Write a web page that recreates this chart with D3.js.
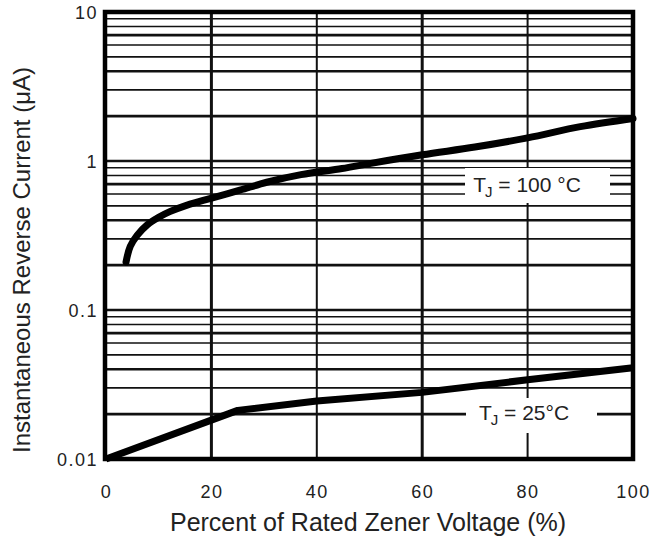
<!DOCTYPE html>
<html><head><meta charset="utf-8">
<script src="https://cdn.jsdelivr.net/npm/d3@7"></script>
<style>
html,body{margin:0;padding:0;background:#fff;}
text{font-family:"Liberation Sans",Arial,sans-serif;fill:#222;}
</style></head>
<body>
<svg id="c" width="669" height="541"></svg>
<script>
// ---- data ----
const xTicks = [0, 20, 40, 60, 80, 100];
const xTickLabels = ["0", "20", "40", "60", "80", "100"];
const yTicks = [0.01, 0.1, 1, 10];
const yTickLabels = ["0.01", "0.1", "1", "10"];
const series100X = [3.8, 4.6, 5.9, 7.8, 10, 12.1, 15.4, 19.7, 25.4, 30.5, 37, 44.8, 50, 60, 70, 80, 90, 100];
const series100Y = [0.21, 0.267, 0.317, 0.372, 0.419, 0.457, 0.506, 0.56, 0.637, 0.72, 0.81, 0.89, 0.96, 1.1, 1.24, 1.43, 1.7, 1.93];
const series25X = [0, 25, 40, 60, 80, 100];
const series25Y = [0.01, 0.0212, 0.0245, 0.028, 0.034, 0.041];
const label100 = "100 \u00b0C";
const label25 = "25\u00b0C";
const xTitle = "Percent of Rated Zener Voltage (%)";
const yTitle = "Instantaneous Reverse Current (\u03bcA)";

const svg = d3.select("#c");
const L = 106, R = 633, T = 12, B = 459;
const x = d3.scaleLinear().domain([0, 100]).range([L, R]);
const y = d3.scaleLog().domain([0.01, 10]).range([B, T]);

// horizontal grid
const hGrid = [];
[0.01, 0.1, 1].forEach(d => { for (let k = 1; k < 10; k++) hGrid.push(d * k); });
const thickMult = new Set([1, 2, 4, 7]);
const g = svg.append("g");
hGrid.forEach(v => {
  const m = Math.round(v / Math.pow(10, Math.floor(Math.log10(v) + 1e-9)));
  g.append("line").attr("x1", L).attr("x2", R).attr("y1", y(v)).attr("y2", y(v))
    .attr("stroke", "#111").attr("stroke-width", thickMult.has(m) ? 2.6 : 1.6);
});
// vertical grid
[20, 40, 60, 80].forEach(v => {
  g.append("line").attr("x1", x(v)).attr("x2", x(v)).attr("y1", T).attr("y2", B)
    .attr("stroke", "#111").attr("stroke-width", (v === 20 || v === 60) ? 3 : 2);
});

// label boxes (white)
function tjLabel(x0, x1, y0, y1, tx, baseline, txt) {
  svg.append("rect").attr("x", x0).attr("y", y0).attr("width", x1 - x0).attr("height", y1 - y0).attr("fill", "#fff");
  const t = svg.append("text").attr("x", tx).attr("y", baseline).attr("text-anchor", "middle")
    .attr("font-size", 21);
  t.append("tspan").text("T");
  t.append("tspan").attr("font-size", 15).attr("dy", 5).attr("dx", -1).text("J");
  t.append("tspan").attr("dy", -5).text(" = " + txt);
}
tjLabel(465, 610, 168, 203, 527, 192, label100);
tjLabel(466, 597, 398, 433, 524, 420, label25);

// curves
const line100 = d3.line().x(d => x(d[0])).y(d => y(d[1])).curve(d3.curveCatmullRom);
svg.append("path").datum(series100X.map((v, i) => [v, series100Y[i]]))
  .attr("d", line100).attr("fill", "none").attr("stroke", "#000").attr("stroke-width", 7).attr("stroke-linecap", "round");
const line25 = d3.line().x(d => x(d[0])).y(d => y(d[1])).curve(d3.curveLinear);
svg.append("path").datum(series25X.map((v, i) => [v, series25Y[i]]))
  .attr("d", line25).attr("fill", "none").attr("stroke", "#000").attr("stroke-width", 7).attr("stroke-linejoin", "round");

// frame
svg.append("rect").attr("x", L - 1).attr("y", T).attr("width", R - L + 1).attr("height", B - T)
  .attr("fill", "none").attr("stroke", "#000").attr("stroke-width", 4.5);

// axes
const xAxis = d3.axisBottom(x).tickValues(xTicks).tickSize(0).tickPadding(0)
  .tickFormat((d, i) => xTickLabels[i]);
const xa = svg.append("g").attr("transform", `translate(0,${B + 39})`).call(xAxis);
xa.select(".domain").remove();
xa.selectAll("text").attr("font-size", 18).attr("letter-spacing", 1.5).attr("dy", 0).attr("fill", "#222")
  .attr("font-family", '"Liberation Sans",Arial,sans-serif');

const yAxis = d3.axisLeft(y).tickValues(yTicks).tickSize(0).tickPadding(0)
  .tickFormat((d, i) => yTickLabels[i]);
const ya = svg.append("g").attr("transform", `translate(${L - 8},0)`).call(yAxis);
ya.select(".domain").remove();
ya.selectAll("text").attr("font-size", 18).attr("letter-spacing", 1.5).attr("dy", "0.35em").attr("fill", "#222")
  .attr("font-family", '"Liberation Sans",Arial,sans-serif');

svg.append("text").attr("x", 368).attr("y", 531).attr("text-anchor", "middle")
  .attr("font-size", 25).text(xTitle);
svg.append("text").attr("transform", `translate(30,260) rotate(-90)`).attr("text-anchor", "middle")
  .attr("font-size", 24).text(yTitle);
</script>
</body></html>
